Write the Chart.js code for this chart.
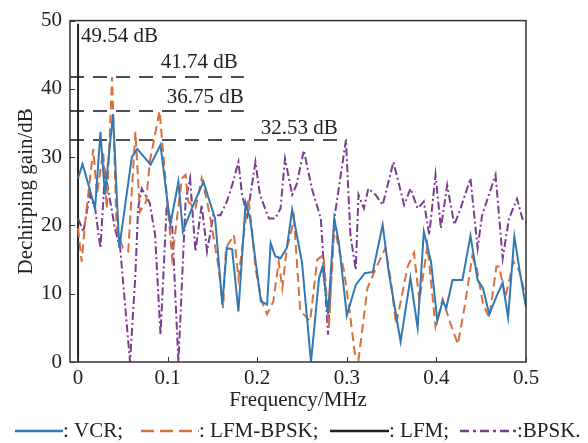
<!DOCTYPE html>
<html>
<head>
<meta charset="utf-8">
<script src="https://cdn.jsdelivr.net/npm/chart.js@4.4.1/dist/chart.umd.min.js"></script>
<style>
  html, body { margin: 0; padding: 0; background: #fff; }
  canvas { display: block; }
</style>
</head>
<body>
<canvas id="gainChart" width="588" height="443"></canvas>
<script>
// Axis ticks
const xTicks = [0, 0.1, 0.2, 0.3, 0.4, 0.5];
const xTickLabels = ['0', '0.1', '0.2', '0.3', '0.4', '0.5'];
const yTicks = [0, 10, 20, 30, 40, 50];

// VCR (solid blue)
const vcrFreq = [0, 0.005, 0.019, 0.025, 0.030, 0.039, 0.046, 0.060, 0.066, 0.081, 0.092, 0.103, 0.112, 0.117,
  0.127, 0.140, 0.153, 0.161, 0.166, 0.172, 0.179, 0.187, 0.192, 0.204, 0.211, 0.215, 0.220, 0.226, 0.233,
  0.239, 0.250, 0.260, 0.269, 0.273, 0.279, 0.286, 0.291, 0.300, 0.310, 0.320, 0.329, 0.340, 0.347, 0.360,
  0.371, 0.379, 0.386, 0.394, 0.401, 0.407, 0.411, 0.418, 0.429, 0.438, 0.446, 0.452, 0.459, 0.468, 0.474,
  0.480, 0.487, 0.493, 0.500];
const vcrGain = [26.9, 29, 22.5, 33.7, 24.5, 36.3, 16.7, 30, 31.2, 28.9, 31.8, 20.1, 26.4, 19.1,
  22.5, 26.4, 21, 8.4, 16.7, 16.5, 7.4, 23.3, 21, 8.9, 8.4, 17.4, 15.5, 15.2, 16.7,
  22.3, 14.5, 0, 12.3, 14, 7, 21, 17.6, 6.8, 11.3, 13, 13.2, 20.1, 13, 3,
  12.3, 5, 19.1, 14.7, 6, 8.9, 7.9, 12, 12, 18.5, 12, 10.8, 7, 9.9, 11.6,
  6.5, 18.4, 13.3, 8];

// LFM-BPSK (dashed orange)
const lbFreq = [0, 0.004, 0.008, 0.017, 0.021, 0.028, 0.032, 0.038, 0.043, 0.050, 0.056, 0.064, 0.069, 0.076,
  0.080, 0.091, 0.099, 0.105, 0.110, 0.116, 0.120, 0.123, 0.131, 0.138, 0.144, 0.149, 0.157, 0.162, 0.165,
  0.174, 0.179, 0.190, 0.194, 0.198, 0.205, 0.211, 0.218, 0.224, 0.228, 0.233, 0.237, 0.241, 0.248, 0.259,
  0.267, 0.274, 0.280, 0.286, 0.291, 0.297, 0.304, 0.309, 0.313, 0.323, 0.330, 0.343, 0.349, 0.355, 0.368,
  0.375, 0.381, 0.390, 0.399, 0.407, 0.416, 0.424, 0.432, 0.440, 0.445, 0.452, 0.459, 0.467, 0.470, 0.477,
  0.486, 0.492, 0.498];
const lbGain = [19.6, 14.7, 20.6, 31.2, 24.5, 30.8, 22.5, 41.74, 19.6, 16.7, 16.2, 33.7, 22, 23.5,
  29.3, 36.75, 24.5, 15.2, 20.6, 26.9, 27.4, 23.5, 22.5, 26.9, 23.5, 20.1, 13.7, 7.9, 16.7,
  18.6, 12.3, 24, 19.6, 13.7, 8.9, 7, 8.9, 14.7, 10.8, 16.7, 18.5, 21, 7.5, 6,
  15, 15.7, 5, 20, 16.7, 13.3, 6.5, 1.2, 0.3, 10.8, 13, 16.7, 12, 5.5, 14,
  16, 9, 17, 5.2, 9.2, 5.5, 2.6, 8.5, 15.5, 13.7, 8.5, 6.5, 14, 14, 9.5,
  14.7, 13.5, 10.5];

// LFM (solid black spike at zero)
const lfmFreq = [0, 0];
const lfmGain = [0, 49.54];

// BPSK (dash-dot purple)
const bpskFreq = [0, 0.006, 0.013, 0.019, 0.025, 0.030, 0.036, 0.041, 0.047, 0.058, 0.064, 0.067, 0.071, 0.080,
  0.086, 0.092, 0.099, 0.105, 0.112, 0.120, 0.125, 0.131, 0.138, 0.144, 0.151, 0.159, 0.166, 0.172, 0.179,
  0.183, 0.189, 0.198, 0.203, 0.213, 0.220, 0.226, 0.231, 0.239, 0.244, 0.252, 0.261, 0.271, 0.279, 0.286,
  0.291, 0.299, 0.304, 0.310, 0.313, 0.319, 0.324, 0.332, 0.340, 0.352, 0.364, 0.371, 0.379, 0.386, 0.392,
  0.399, 0.405, 0.412, 0.420, 0.427, 0.438, 0.446, 0.451, 0.466, 0.474, 0.481, 0.490, 0.496, 0.500];
const bpskGain = [21, 19.1, 24.5, 22.5, 16.7, 27.8, 23.5, 19.6, 16.7, 0, 12.8, 22.5, 25.4, 23.3,
  18.6, 4, 23, 20, 0, 23.5, 26.9, 16.2, 23, 16.2, 21.5, 21.5, 23.5, 25.9, 29.3,
  24.5, 21.5, 29.3, 24.5, 21, 21, 22.5, 29.8, 24.5, 26, 31, 25.4, 21, 4, 21,
  25.4, 32.53, 18.6, 13.5, 24.5, 22.5, 25.4, 24.5, 23, 29.3, 23, 25.4, 22.5, 23.5, 18.6,
  27.4, 19.6, 25.9, 20.1, 22.5, 26.9, 16.7, 21.5, 27.4, 15.2, 21, 23.9, 21, 20.5];

// Peak markers: dashed level lines with their labels
const refGain = [41.74, 36.75, 32.53];
const refEnd = [0.185, 0.185, 0.30];
const xMin = -0.009;

const serif = "'Liberation Serif', 'Times New Roman', serif";
const textColor = '#222';

const pts = (xs, ys) => xs.map((x, i) => ({ x: x, y: ys[i] }));

const datasets = [
  { label: 'VCR', data: pts(vcrFreq, vcrGain), borderColor: '#3278b4', borderWidth: 2 },
  { label: 'LFM-BPSK', data: pts(lbFreq, lbGain), borderColor: '#d8703c', borderWidth: 2, borderDash: [9, 5] },
  { label: 'BPSK', data: pts(bpskFreq, bpskGain), borderColor: '#7a3d8e', borderWidth: 2, borderDash: [8, 3, 2, 3] },
  { label: 'LFM', data: pts(lfmFreq, lfmGain), borderColor: '#222', borderWidth: 2 }
];
refGain.forEach((g, i) => {
  datasets.push({
    label: 'ref' + i,
    data: [{ x: xMin, y: g }, { x: refEnd[i], y: g }],
    borderColor: '#4d4d4d', borderWidth: 2, borderDash: [14, 9]
  });
});
datasets.forEach(d => { d.pointRadius = 0; d.fill = false; d.tension = 0; });

// frame, inward ticks, peak labels and the line legend under the axis
const decorations = {
  id: 'decorations',
  afterDraw(chart) {
    const { ctx, chartArea: a, scales: { x, y } } = chart;
    ctx.save();
    ctx.strokeStyle = '#333';
    ctx.lineWidth = 1.5;
    ctx.setLineDash([]);
    ctx.strokeRect(a.left, a.top, a.right - a.left, a.bottom - a.top);
    ctx.lineWidth = 1;
    xTicks.forEach(v => {
      const px = Math.round(x.getPixelForValue(v)) + 0.5;
      ctx.beginPath(); ctx.moveTo(px, a.bottom); ctx.lineTo(px, a.bottom - 5); ctx.stroke();
    });
    yTicks.forEach(v => {
      const py = Math.round(y.getPixelForValue(v)) + 0.5;
      ctx.beginPath(); ctx.moveTo(a.left, py); ctx.lineTo(a.left + 5, py); ctx.stroke();
    });

    ctx.fillStyle = textColor;
    ctx.font = '21px ' + serif;
    ctx.textBaseline = 'alphabetic';
    ctx.textAlign = 'left';
    ctx.fillText(lfmGain[1].toFixed(2) + ' dB', x.getPixelForValue(0) + 3, y.getPixelForValue(lfmGain[1]) + 18);
    ctx.textAlign = 'right';
    ctx.fillText(refGain[0].toFixed(2) + ' dB', x.getPixelForValue(refEnd[0]) - 6, y.getPixelForValue(refGain[0]) - 9);
    ctx.fillText(refGain[1].toFixed(2) + ' dB', x.getPixelForValue(refEnd[1]), y.getPixelForValue(refGain[1]) - 8);
    ctx.fillText(refGain[2].toFixed(2) + ' dB', x.getPixelForValue(refEnd[2]) - 9, y.getPixelForValue(refGain[2]) - 6);

    // legend row
    const ly = 431;
    const items = [
      { x0: 15, x1: 63, color: '#3278b4', dash: [], text: ': VCR;' },
      { x0: 141, x1: 199, color: '#d8703c', dash: [13, 6], text: ': LFM-BPSK;' },
      { x0: 330, x1: 389, color: '#222', dash: [], text: ': LFM;' },
      { x0: 460, x1: 517, color: '#7a3d8e', dash: [9, 4, 3, 4], text: ':BPSK.' }
    ];
    ctx.textAlign = 'left';
    ctx.textBaseline = 'middle';
    items.forEach(it => {
      ctx.strokeStyle = it.color;
      ctx.lineWidth = 2.5;
      ctx.setLineDash(it.dash);
      ctx.beginPath(); ctx.moveTo(it.x0, ly); ctx.lineTo(it.x1, ly); ctx.stroke();
      ctx.fillText(it.text, it.x1, ly);
    });
    ctx.restore();
  }
};

new Chart(document.getElementById('gainChart'), {
  type: 'line',
  data: { datasets: datasets },
  options: {
    responsive: false,
    animation: false,
    devicePixelRatio: 1,
    layout: { padding: { left: 0, right: 62, top: 18, bottom: 30 } },
    plugins: { legend: { display: false }, tooltip: { enabled: false } },
    scales: {
      x: {
        type: 'linear',
        min: xMin,
        max: 0.5,
        grid: { display: false, drawTicks: false },
        border: { display: false },
        afterBuildTicks: s => { s.ticks = xTicks.map(v => ({ value: v })); },
        afterFit: s => { s.height = 51; },
        ticks: {
          padding: 4,
          color: textColor,
          font: { family: serif, size: 21 },
          maxRotation: 0,
          callback: v => xTickLabels[xTicks.indexOf(v)]
        },
        title: {
          display: true,
          text: 'Frequency/MHz',
          color: textColor,
          font: { family: serif, size: 21 },
          padding: { top: 0, bottom: 0 }
        }
      },
      y: {
        min: 0,
        max: 50,
        grid: { display: false, drawTicks: false },
        border: { display: false },
        afterBuildTicks: s => { s.ticks = yTicks.map(v => ({ value: v })); },
        afterFit: s => { s.width = 70; },
        ticks: {
          padding: 8,
          color: textColor,
          font: { family: serif, size: 21 }
        },
        title: {
          display: true,
          text: 'Dechirping gain/dB',
          color: textColor,
          font: { family: serif, size: 21 },
          padding: { top: 14, bottom: 14 }
        }
      }
    }
  },
  plugins: [decorations]
});
</script>
</body>
</html>
